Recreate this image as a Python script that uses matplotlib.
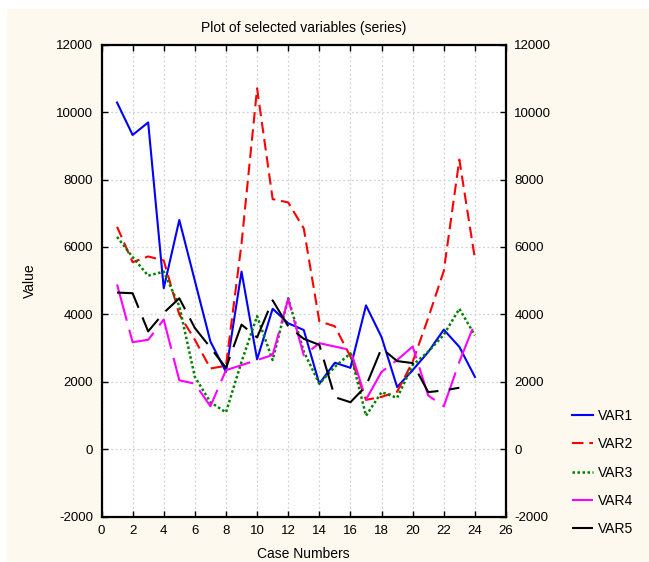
# Plot of selected variables (series):

# Import libraries:
import numpy as np
import matplotlib
matplotlib.use("Agg")
import matplotlib.pyplot as plt
from matplotlib.patches import Rectangle

plt.rcParams['font.family'] = ['Liberation Sans', 'DejaVu Sans']
plt.rcParams['axes.unicode_minus'] = False

# Data:
cases = list(range(1, 25))
var1 = [10280, 9320, 9690, 4780, 6800, 5000, 3200, 2300, 5270, 2670, 4170, 3740,
        3540, 1950, 2570, 2420, 4270, 3330, 1850, 2350, 2890, 3550, 3040, 2150]
var2 = [6600, 5550, 5720, 5600, 4000, 3250, 2400, 2480, 6100, 10700, 7420, 7320,
        6550, 3800, 3650, 2750, 1470, 1560, 1710, 2600, 3900, 5290, 8590, 5650]
var3 = [6300, 5700, 5150, 5270, 4250, 2150, 1400, 1100, 2600, 3950, 2650, 4480,
        2900, 1950, 2450, 2850, 1000, 1700, 1530, 2500, 2900, 3400, 4170, 3380]
var4 = [4890, 3180, 3250, 3850, 2050, 1950, 1280, 2350, 2500, 2650, 2800, 4460,
        2790, 3150, 3050, 2950, 1480, 2300, 2650, 3050, 1600, 1280, 2600, 3750]
var5 = [4650, 4630, 3500, 4050, 4480, 3600, 3020, 2420, 3700, 3320, 4420, 3650,
        3280, 3100, 1550, 1400, 1880, 3000, 2620, 2560, 1700, 1750, 1830, np.nan]
names = ["VAR1", "VAR2", "VAR3", "VAR4", "VAR5"]
xticks = list(range(0, 27, 2))
yticks = list(range(-2000, 12001, 2000))

# Figure and background:
fig = plt.figure(figsize=(6.49, 5.62), dpi=100, facecolor="white")
fig.patches.append(Rectangle((7 / 649, 0), 1, 1 - 9 / 562, transform=fig.transFigure,
                             facecolor="#fdf9ee", edgecolor="none", zorder=-10))
ax = fig.add_axes([0.1564, 0.0801, 0.6233, 0.8407])
ax.set_facecolor("white")

# Lines:
ax.plot(cases, var1, color="#0000ff", lw=1.5, label=names[0])
ax.plot(cases, var2, color="#ff0000", lw=1.5, dashes=(5.5, 2.8), label=names[1])
ax.plot(cases, var3, color="#008000", lw=1.8, dashes=(1.0, 1.0), label=names[2])
l4, = ax.plot(cases, var4, color="#ff00ff", lw=1.5, label=names[3])
l4.set_dashes((18, 4.5))
l5, = ax.plot(cases, var5, color="black", lw=1.5, label=names[4])
l5.set_dashes((15, 5))

# Axes settings:
ax.set_xlim(0, 26)
ax.set_ylim(-2000, 12000)
ax.set_xticks(xticks)
ax.set_yticks(yticks)
ax.grid(True, color="#d2d2d2", linestyle=(0, (1.5, 2)), linewidth=0.9)
ax.tick_params(direction="in", length=4, width=1, top=True, right=True,
               labelright=True, labelsize=9.5, pad=6)
for s in ax.spines.values():
    s.set_linewidth(1.6)

# Labeling:
ax.set_title("Plot of selected variables (series)", fontsize=10, pad=9)
ax.set_xlabel("Case Numbers", fontsize=10)
ax.set_ylabel("Value", fontsize=10)
ax.xaxis.set_label_coords(0.5, -0.063)
ax.yaxis.set_label_coords(-0.16, 0.5)

# Legend:
fig.legend(loc="center left", bbox_to_anchor=(0.882, 0.159), frameon=False,
           fontsize=10, handlelength=1.45, handletextpad=0.4, labelspacing=1.03,
           borderpad=0, borderaxespad=0)

plt.savefig("out.png", dpi=100, facecolor=fig.get_facecolor())
